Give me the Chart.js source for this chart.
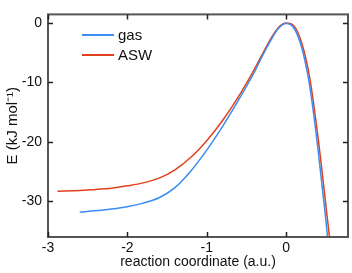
<!DOCTYPE html>
<html lang="en">
<head>
    <meta charset="UTF-8">
    <title>Reaction energy profile</title>
    <style>
        html, body { margin: 0; padding: 0; background: #fff; }
        #wrap { width: 352px; height: 273px; }
    </style>
    <script src="https://cdn.jsdelivr.net/npm/chart.js"></script>
</head>
<body>
    <div id="wrap"><canvas id="graph" width="352" height="273"></canvas></div>

    <script>
        // values
        const gasX = [-2.6, -2.4, -2.2, -2.0, -1.8, -1.6, -1.4, -1.2, -1.0, -0.8, -0.6, -0.4, -0.3, -0.2, -0.1, 0.0, 0.1, 0.2, 0.3, 0.4, 0.5, 0.55];
        const gasE = [-31.8, -31.6, -31.3, -30.9, -30.3, -29.4, -27.7, -24.9, -21.4, -17.4, -13.0, -8.3, -5.6, -3.1, -1.0, -0.1, -0.9, -4.3, -10.8, -21.0, -33.0, -40.0];
        const aswX = [-2.88, -2.6, -2.4, -2.2, -2.0, -1.8, -1.6, -1.4, -1.2, -1.0, -0.8, -0.6, -0.4, -0.3, -0.2, -0.1, 0.0, 0.1, 0.2, 0.3, 0.4, 0.5, 0.58];
        const aswE = [-28.3, -28.2, -28.0, -27.8, -27.4, -26.9, -26.1, -24.7, -22.6, -19.8, -16.4, -12.4, -7.8, -5.3, -2.8, -0.8, 0.0, -0.5, -3.5, -9.4, -19.0, -30.5, -40.0];
        const xTicks = [-3, -2, -1, 0];
        const yTicks = [-30, -20, -10, 0];

        const frameColor = '#555';
        const gasColor = '#3a8df2';
        const aswColor = '#e2401c';

        function points(xs, ys) {
            return xs.map((x, i) => ({ x: x, y: ys[i] }));
        }

        // frame on all four sides, inward ticks, and the little legend
        const framePlugin = {
            id: 'frame',
            afterDatasetsDraw(chart) {
                const ctx = chart.ctx;
                const a = chart.chartArea;
                const xs = chart.scales.x;
                const ys = chart.scales.y;
                ctx.save();
                ctx.strokeStyle = frameColor;
                ctx.lineWidth = 2;
                ctx.strokeRect(a.left, a.top, a.right - a.left, a.bottom - a.top);
                ctx.lineWidth = 1.5;
                ctx.strokeStyle = '#222';
                ctx.beginPath();
                xTicks.forEach(v => {
                    const px = Math.round(xs.getPixelForValue(v)) + 0.5;
                    ctx.moveTo(px, a.bottom); ctx.lineTo(px, a.bottom - 5);
                    ctx.moveTo(px, a.top); ctx.lineTo(px, a.top + 5);
                });
                yTicks.forEach(v => {
                    const py = Math.round(ys.getPixelForValue(v)) + 0.5;
                    ctx.moveTo(a.left, py); ctx.lineTo(a.left + 5, py);
                    ctx.moveTo(a.right, py); ctx.lineTo(a.right - 5, py);
                });
                ctx.stroke();

                // legend
                ctx.font = '15px "Liberation Sans", Arial, sans-serif';
                ctx.textBaseline = 'middle';
                chart.data.datasets.forEach((ds, i) => {
                    const y = 35 + i * 20;
                    ctx.strokeStyle = ds.borderColor;
                    ctx.lineWidth = 2;
                    ctx.beginPath();
                    ctx.moveTo(82, y); ctx.lineTo(114, y);
                    ctx.stroke();
                    ctx.fillStyle = '#111';
                    ctx.fillText(ds.label, 118, y + 1);
                });
                ctx.restore();
            }
        };

        const font = { family: '"Liberation Sans", Arial, sans-serif', size: 14 };

        new Chart(document.getElementById('graph'), {
            type: 'line',
            data: {
                datasets: [
                    { label: 'gas', data: points(gasX, gasE), borderColor: gasColor, borderWidth: 1.5, pointRadius: 0, cubicInterpolationMode: 'monotone', fill: false },
                    { label: 'ASW', data: points(aswX, aswE), borderColor: aswColor, borderWidth: 1.5, pointRadius: 0, cubicInterpolationMode: 'monotone', fill: false }
                ]
            },
            options: {
                responsive: false,
                animation: false,
                layout: { padding: { top: 2, right: 4, left: 0, bottom: 0 } },
                plugins: { legend: { display: false }, tooltip: { enabled: false } },
                scales: {
                    x: {
                        type: 'linear',
                        min: -3,
                        max: 0.78,
                        afterBuildTicks: s => { s.ticks = xTicks.map(v => ({ value: v })); },
                        afterFit: s => { s.height = 36; },
                        grid: { drawOnChartArea: false, drawTicks: false },
                        border: { display: false },
                        ticks: { font: font, color: '#111', padding: 3, maxRotation: 0 },
                        title: { display: true, text: 'reaction coordinate (a.u.)', font: font, color: '#111', padding: { top: 0, bottom: 2 } }
                    },
                    y: {
                        min: -36,
                        max: 1.43,
                        afterBuildTicks: s => { s.ticks = yTicks.map(v => ({ value: v })); },
                        afterFit: s => { s.width = 48; },
                        grid: { drawOnChartArea: false, drawTicks: false },
                        border: { display: false },
                        ticks: { font: font, color: '#111', padding: 6 },
                        title: { display: true, text: 'E (kJ mol\u207B\u00B9)', font: { family: font.family, size: 15 }, color: '#111', padding: { top: 4, bottom: 0 } }
                    }
                }
            },
            plugins: [framePlugin]
        });
    </script>
</body>
</html>
